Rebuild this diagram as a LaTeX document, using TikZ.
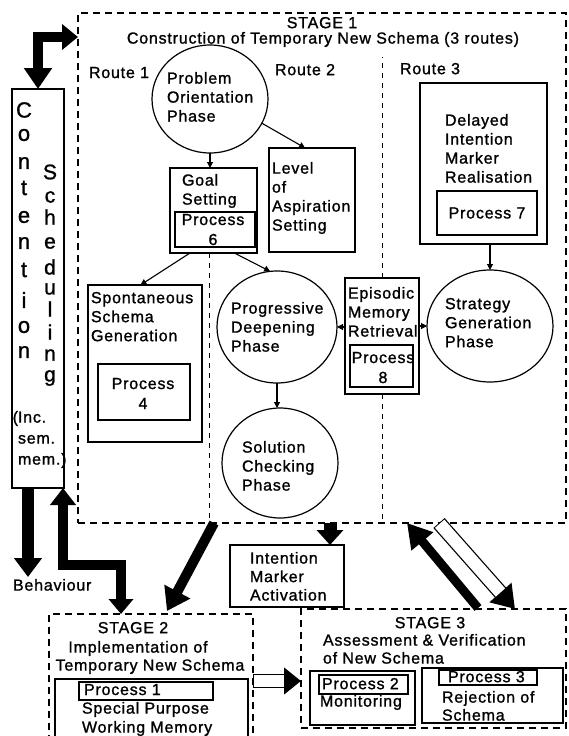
\documentclass[tikz,border=0pt]{standalone}
\usepackage{fontspec}
\setmainfont{Liberation Sans}[LetterSpace=5,FakeBold=1.2]
\usetikzlibrary{arrows.meta,shapes.geometric,fit,calc}
\begin{document}
\begin{tikzpicture}[x=1pt,y=-1pt,
  every node/.style={inner sep=0pt,outer sep=0pt},
  txt/.style={font=\fontsize{16}{19}\selectfont,align=left,anchor=north west},
  ctxt/.style={font=\fontsize{16}{20}\selectfont,align=center,anchor=north},
  bigA/.style={font=\fontsize{22}{22}\selectfont,anchor=center},
  bigB/.style={font=\fontsize{21}{21}\selectfont,anchor=center},
  box/.style={draw,line width=1.2pt,rectangle,fit={#1}},
  phase/.style={draw,line width=1.2pt,ellipse},
  stagebox/.style={draw,line width=1.1pt,dash pattern=on 7pt off 5pt,rectangle,fit={#1}},
  sep/.style={draw,line width=1pt,dash pattern=on 5pt off 5pt},
  thinarr/.style={line width=1.1pt,-{Triangle[length=6pt,width=6pt]}},
  heavy/.style={line width=10pt}
]
\useasboundingbox (0,0) rectangle (568,736);
\clip (0,0) rectangle (568,736);

% stage frames
\node[stagebox={(78,13)(566,523)}] (stage1) {};
\node[stagebox={(49,614)(253,745)}] (stage2) {};
\node[stagebox={(301,609)(566,728)}] (stage3) {};

% Contention Scheduling column
\node[box={(12,89)(64,488)}] (cs) {};
\foreach \ch/\yy [count=\i] in {C/110,o/135,n/163,t/188,e/217,n/243,t/270,i/300,o/327,n/352}
  \node[bigA] (ca\i) at (24,\yy) {\ch};
\foreach \ch/\yy [count=\i] in {S/172,c/197,h/217,e/243,d/267,u/289,l/309,i/332,n/355,g/378}
  \node[bigB] (cb\i) at (50,\yy) {\ch};
\node[txt,font=\fontsize{16}{21}\selectfont] (inc) at (18,411) {\llap{(}Inc.\\sem.\\mem.)};

% Stage 1 titles
\node[ctxt] (s1a) at (322,17) {STAGE 1};
\node[ctxt] (s1b) at (323,32) {Construction of Temporary New Schema (3 routes)};
\node[txt] (r1) at (89,67) {Route 1};
\node[txt] (r2) at (275,64) {Route 2};
\node[txt] (r3) at (400,63) {Route 3};

% Route 1 / 2 elements
\node[phase,minimum width=116pt,minimum height=108pt] (pop) at (210,99) {};
\node[txt] (popt) at (167,72) {Problem\\Orientation\\Phase};

\node[box={(170,168)(257,253)}] (goal) {};
\node[txt] (goalt) at (182,174) {Goal\\Setting};
\node[box={(175,212)(255,247)}] (p6) {};
\node[ctxt] (p6t) at (213,214) {Process\\6};

\node[box={(269,148)(355,252)}] (level) {};
\node[txt] (levelt) at (272,162) {Level\\of\\Aspiration\\Setting};

\node[box={(88,285)(202,442)}] (spon) {};
\node[txt] (spont) at (91,292) {Spontaneous\\Schema\\Generation};
\node[box={(98,364)(190,420)}] (p4) {};
\node[ctxt] (p4t) at (143,378) {Process\\4};

\node[phase,minimum width=120pt,minimum height=112pt] (prog) at (277,327) {};
\node[txt] (progt) at (231,302) {Progressive\\Deepening\\Phase};

\node[phase,minimum width=116pt,minimum height=110pt] (sol) at (280,463) {};
\node[txt] (solt) at (242,441) {Solution\\Checking\\Phase};

\node[box={(345,278)(419,394)}] (epi) {};
\node[txt] (epit) at (348,287) {Episodic\\Memory\\Retrieval};
\node[box={(350,345)(413,387)}] (p8) {};
\node[ctxt] (p8t) at (383,352) {Process\\8};

% Route 3 elements
\node[box={(420,83)(547,244)}] (del) {};
\node[txt] (delt) at (445,114) {Delayed\\Intention\\Marker\\Realisation};
\node[box={(437,191)(537,235)}] (p7) {};
\node[ctxt,anchor=center] (p7t) at (p7.center) {Process 7};

\node[phase,minimum width=126pt,minimum height=112pt] (strat) at (490,326) {};
\node[txt] (stratt) at (445,298) {Strategy\\Generation\\Phase};

% Intention marker activation
\node[box={(230,545)(344,607)}] (intent) {};
\node[txt,font=\fontsize{16}{18.5}\selectfont] (intt) at (250,552) {Intention\\Marker\\Activation};

\node[txt] (behav) at (13,579) {Behaviour};

% Stage 2
\node[ctxt] (s2a) at (133,622) {STAGE 2};
\node[ctxt] (s2b) at (138,641) {Implementation of};
\node[ctxt] (s2c) at (150,659) {Temporary New Schema};
\node[box={(55,679)(248,745)}] (spb) {};
\node[box={(79,682)(213,700)}] (p1) {};
\node[txt] (p1t) at (84,684) {Process 1};
\node[txt] (spt) at (82,702) {Special Purpose\\Working Memory};

% Stage 3
\node[ctxt] (s3a) at (430,617) {STAGE 3};
\node[txt,font=\fontsize{16}{18}\selectfont] (s3b) at (323,634) {Assessment \& Verification\\of New Schema};
\node[box={(310,671)(415,725)}] (boxa) {};
\node[box={(319,675)(408,694)}] (p2) {};
\node[txt] (p2t) at (322,678) {Process 2};
\node[txt] (mont) at (320,695) {Monitoring};
\node[box={(422,668)(563,723)}] (boxb) {};
\node[box={(439,670)(537,685)}] (p3) {};
\node[txt] (p3t) at (448,671) {Process 3};
\node[txt,font=\fontsize{16}{18}\selectfont] (rejt) at (442,691) {Rejection of\\Schema};

% route separators
\draw[sep] ([xshift=-4.5pt]goal.south) -- ([xshift=-4.5pt]goal.south |- stage1.south);
\draw[sep] (epi.north) -- ++(0,-221);
\draw[sep] (epi.south) -- (epi.south |- stage1.south);

% thin connectors
\draw[thinarr] (pop.south) -- (pop.south |- goal.north);
\draw[thinarr] (pop.-25) -- ($(level.north west)!0.42!(level.north east)$);
\draw[thinarr] ($(goal.south west)!0.23!(goal.south east)$) -- ($(spon.north west)!0.46!(spon.north east)$);
\draw[thinarr] ($(goal.south west)!0.74!(goal.south east)$) -- (prog.97);
\draw[thinarr] (prog.south) -- (prog.south |- sol.north);
\draw[thinarr] (strat.north |- del.south) -- (strat.north);
\draw[thinarr] (epi.west |- prog.east) -- (prog.east);
\draw[thinarr] (epi.east |- strat.west) -- (strat.west);

% heavy arrows
\coordinate (s1in) at ($(stage1.north west)+(0,24)$);
\draw[heavy,{Triangle[length=21pt,width=27pt]}-{Triangle[length=16pt,width=25pt]}] (cs.north) |- (s1in);

\coordinate (behtip) at (28,577);
\draw[heavy,line width=12pt,-{Triangle[length=19pt,width=27pt]}] (cs.south -| behtip) -- (behtip);

\coordinate (elb) at (63,565);
\coordinate (s2in) at ($(stage2.north west)+(72,0)$);
\draw[heavy,{Triangle[length=17pt,width=25pt]}-{Triangle[length=15pt,width=24pt]}] (cs.south -| elb) -- (elb) -| (s2in);

\coordinate (d1) at ($(stage1.south west)+(136,0)$);
\coordinate (d2) at ($(stage2.north west)+(118,-3)$);
\draw[heavy,-{Triangle[length=22pt,width=28pt]}] (d1) -- (d2);

\coordinate (itop) at ($(intent.north west)+(100,0)$);
\draw[heavy,line width=13pt,-{Triangle[length=15pt,width=26pt]}] (itop |- stage1.south) -- (itop);

\coordinate (bu1) at ($(stage3.north west)+(177,-1)$);
\coordinate (bu2) at ($(stage1.south west)+(329,0)$);
\draw[heavy,line width=9pt,-{Triangle[length=24pt,width=27pt]}] (bu1) -- (bu2);

\coordinate (ho1) at ($(stage1.south west)+(361,0)$);
\coordinate (ho2) at ($(stage3.north west)+(214,0)$);
\draw[line width=15pt,-{Triangle[length=22pt,width=28pt]}] (ho1) -- (ho2);
\draw[white,line width=12.5pt,shorten >=22pt,shorten <=1pt] (ho1) -- (ho2);

\coordinate (h1) at ($(stage2.north east)+(0,67)$);
\coordinate (h2) at ($(stage3.north west)+(0,72)$);
\draw[line width=14pt,-{Triangle[length=17pt,width=26pt]}] (h1) -- (h2);
\draw[white,line width=11.5pt,shorten >=17pt,shorten <=1pt] (h1) -- (h2);
\end{tikzpicture}
\end{document}
